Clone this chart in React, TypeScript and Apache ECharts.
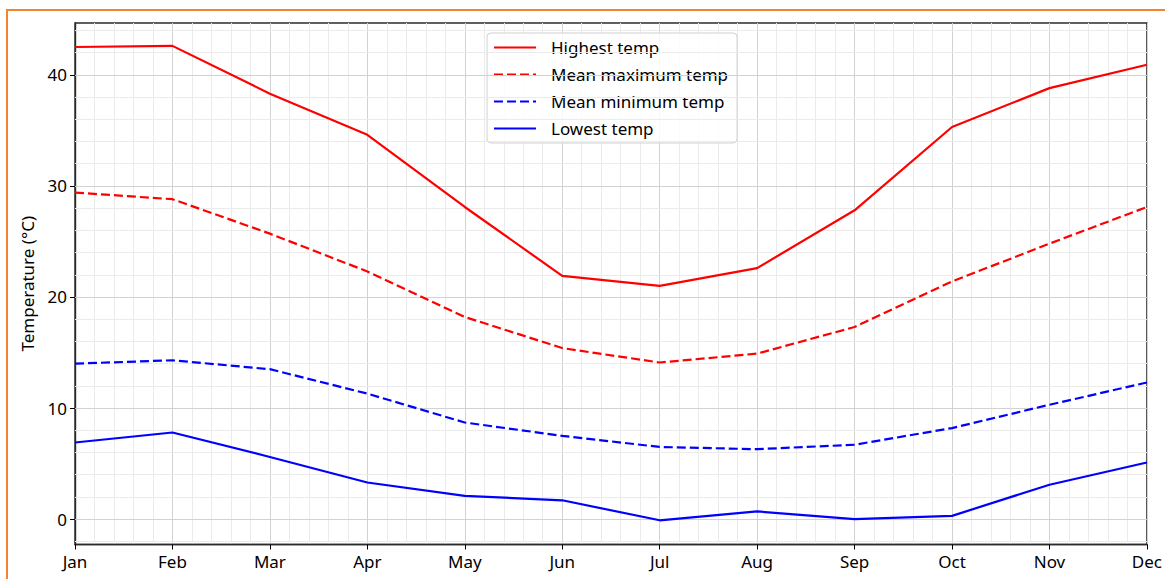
import React, { useEffect, useRef } from "react";
import * as echarts from "echarts";

const MONTHS = ["Jan", "Feb", "Mar", "Apr", "May", "Jun", "Jul", "Aug", "Sep", "Oct", "Nov", "Dec"];
const HIGHEST = [42.5, 42.6, 38.3, 34.6, 28.1, 21.9, 21.0, 22.6, 27.8, 35.3, 38.8, 40.9];
const MEAN_MAX = [29.4, 28.8, 25.7, 22.3, 18.2, 15.4, 14.1, 14.9, 17.3, 21.4, 24.8, 28.1];
const MEAN_MIN = [14.0, 14.3, 13.5, 11.3, 8.7, 7.5, 6.5, 6.3, 6.7, 8.2, 10.3, 12.3];
const LOWEST = [6.9, 7.8, 5.6, 3.3, 2.1, 1.7, -0.1, 0.7, 0.0, 0.3, 3.1, 5.1];

const Y_TICKS = [0, 10, 20, 30, 40];
const Y_MINOR = [-2, 2, 4, 6, 8, 12, 14, 16, 18, 22, 24, 26, 28, 32, 34, 36, 38, 42, 44];
const Y_MIN = -2.28;
const Y_MAX = 44.66;

const SERIES_NAMES = ["Highest temp", "Mean maximum temp", "Mean minimum temp", "Lowest temp"];

const MAJOR = "#d2d2d2";
const MINOR = "#ebebeb";
const FONT = "Noto Sans";

const toPoints = (arr: number[]) => arr.map((v, i) => [i, v]);

export default function App() {
  const ref = useRef<HTMLDivElement>(null);
  useEffect(() => {
    if (!ref.current) return;
    const chart = echarts.init(ref.current, undefined, { renderer: "svg" });
    const lineSeries = (name: string, data: number[], color: string, dashed: boolean) => ({
      name,
      type: "line",
      data: toPoints(data),
      symbol: "none",
      z: 5,
      lineStyle: { color, width: 2.2, type: dashed ? [9, 4] : "solid" },
      itemStyle: { color },
      emphasis: { disabled: true },
    });
    chart.setOption({
      animation: false,
      backgroundColor: "#ffffff",
      textStyle: { fontFamily: FONT },
      grid: {
        left: 75,
        right: 18,
        top: 23,
        bottom: 34.5,
        show: true,
        borderColor: "#2b2b2b",
        borderWidth: 1.4,
        backgroundColor: "transparent",
      },
      graphic: [
        {
          type: "polyline",
          shape: { points: [[7, 579], [7, 10], [1165, 10]] },
          style: { stroke: "#F5822F", lineWidth: 2, fill: "none" },
          silent: true,
        },
      ],
      legend: {
        orient: "vertical",
        left: 487,
        top: 33,
        itemWidth: 42,
        itemHeight: 14,
        itemGap: 10,
        padding: [6, 9, 6, 6],
        borderColor: "#d0d0d0",
        borderWidth: 1,
        borderRadius: 4,
        backgroundColor: "rgba(255,255,255,0.85)",
        itemStyle: { opacity: 0 },
        textStyle: { fontFamily: FONT, fontSize: 17, color: "#000", padding: [0, 0, 0, 10] },
        data: SERIES_NAMES,
      },
      xAxis: {
        type: "value",
        min: 0,
        max: 11,
        interval: 1,
        axisLine: { show: true, onZero: false, lineStyle: { color: "#2b2b2b", width: 1.4 } },
        axisTick: { show: true, length: 5, lineStyle: { color: "#000" } },
        axisLabel: {
          formatter: (v: number) => MONTHS[Math.round(v)] ?? "",
          fontSize: 17,
          color: "#000",
          margin: 8,
          fontFamily: FONT,
        },
        splitLine: { show: true, lineStyle: { color: MAJOR, width: 1 } },
        minorTick: { show: false, splitNumber: 5, length: 0 },
        minorSplitLine: { show: true, lineStyle: { color: MINOR, width: 1 } },
      },
      yAxis: {
        type: "value",
        min: Y_MIN,
        max: Y_MAX,
        name: "Temperature (°C)",
        nameLocation: "middle",
        nameGap: 39,
        nameTextStyle: { fontSize: 17, color: "#000", fontFamily: FONT },
        axisLine: { show: true, onZero: false, lineStyle: { color: "#2b2b2b", width: 1.4 } },
        axisTick: { show: true, length: 5, customValues: Y_TICKS, lineStyle: { color: "#000" } },
        axisLabel: {
          customValues: Y_TICKS,
          fontSize: 17,
          color: "#000",
          margin: 8,
          fontFamily: FONT,
        },
        splitLine: { show: false },
      },
      series: [
        {
          type: "line",
          data: [],
          silent: true,
          z: 1,
          markLine: {
            silent: true,
            symbol: ["none", "none"],
            label: { show: false },
            animation: false,
            emphasis: { disabled: true },
            data: [
              ...Y_MINOR.map((v) => ({ yAxis: v, lineStyle: { color: MINOR, width: 1, type: "solid" } })),
              ...Y_TICKS.map((v) => ({ yAxis: v, lineStyle: { color: MAJOR, width: 1, type: "solid" } })),
            ],
          },
        },
        lineSeries(SERIES_NAMES[0], HIGHEST, "#ff0000", false),
        lineSeries(SERIES_NAMES[1], MEAN_MAX, "#ff0000", true),
        lineSeries(SERIES_NAMES[2], MEAN_MIN, "#0000ff", true),
        lineSeries(SERIES_NAMES[3], LOWEST, "#0000ff", false),
      ],
    });
    return () => chart.dispose();
  }, []);
  return (
    <div
      ref={ref}
      style={{ position: "fixed", left: 0, top: 0, width: 1165, height: 579, background: "#fff" }}
    />
  );
}
